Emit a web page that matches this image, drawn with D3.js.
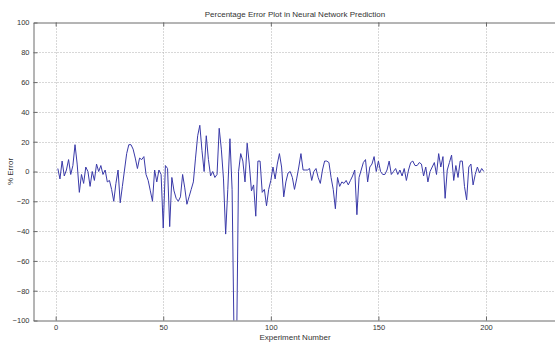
<!DOCTYPE html>
<html>
<head>
<meta charset="utf-8">
<script src="https://cdn.jsdelivr.net/npm/d3@7"></script>
<style>
  html, body { margin: 0; padding: 0; background: #fff; }
  svg { display: block; }
  text { font-family: "Liberation Sans", Arial, sans-serif; fill: #333; }
</style>
</head>
<body>
<svg id="chart" width="555" height="342"></svg>
<script>
// Percentage error of the network prediction, one value per experiment (1..199)
const experiments = d3.range(1, 200);
const errorValues = [
  2, -5, 7, -3, 1, 8, -2, 4, 18, 5,
  -14, -2, -8, 3, 0, -10, 0, -6, 5, 0,
  4, -2, 1, -7, -6, -12, -20, -8, 1, -21,
  -10, 1, 12, 18, 18, 15, 9, 2, 9, 8,
  10, -2, -6, -13, -20, 1, -7, 1, -2, -38,
  4, 2, -37, -4, -13, -18, -20, -17, -2, -11,
  -22, -17, -12, -7, 9, 24, 31, 14, 0, 24,
  8, -3, 0, -4, -2, 29, 15, -5, -42, -12,
  22, -12, -122, -130, 0, 12, 7, -7, 19, 5,
  -13, -9, -30, 7, 7, -14, -12, -23, -12, -6,
  3, -5, 5, 12, 3, -17, -7, -1, 0, -4,
  -12, -5, 3, 12, 1, 1, 1, 2, -6, 0,
  2, -4, -8, 1, 7, 7, 6, -4, -12, -25,
  -4, -10, -7, -8, -6, -9, -6, -3, 1, -29,
  -4, 1, 6, 8, -7, 3, 5, 10, 0, 7,
  0, -2, -2, 1, 7, -2, 0, 2, -2, 1,
  -3, 2, -6, 1, 6, 7, 4, 4, 6, 5,
  -3, 3, -7, 0, 3, 6, -2, 12, 3, 10,
  -18, 1, 6, 11, -6, 4, -4, 7, 7, -10,
  -19, 3, 5, -9, -2, 3, -1, 2, 0
];
const xTicks = [0, 50, 100, 150, 200];
const yTicks = [-100, -80, -60, -40, -20, 0, 20, 40, 60, 80, 100];

const titleText = "Percentage Error Plot in Neural Network Prediction";
const xLabelText = "Experiment Number";
const yLabelText = "% Error";

const svg = d3.select("#chart");
const plotLeft = 33.5, plotRight = 557, plotTop = 22.5, plotBottom = 320.5;

const x = d3.scaleLinear().domain([-10.3, 233]).range([plotLeft, plotRight]);
const y = d3.scaleLinear().domain([-100, 100]).range([plotBottom, plotTop]);

// dotted grid
const grid = svg.append("g").attr("stroke", "#b0b0b0").attr("stroke-width", 1)
  .attr("stroke-dasharray", "1,2");
grid.selectAll(".gx").data(xTicks).join("line")
  .attr("x1", d => Math.round(x(d)) + 0.5).attr("x2", d => Math.round(x(d)) + 0.5)
  .attr("y1", plotTop).attr("y2", plotBottom);
grid.selectAll(".gy").data(yTicks.filter(d => d > -100 && d < 100)).join("line")
  .attr("y1", d => Math.round(y(d)) + 0.5).attr("y2", d => Math.round(y(d)) + 0.5)
  .attr("x1", plotLeft).attr("x2", plotRight);

// error trace
svg.append("clipPath").attr("id", "plotClip").append("rect")
  .attr("x", plotLeft).attr("y", plotTop)
  .attr("width", plotRight - plotLeft).attr("height", plotBottom - plotTop);

const line = d3.line().x((d, i) => x(experiments[i])).y(d => y(d));
svg.append("path")
  .datum(errorValues)
  .attr("clip-path", "url(#plotClip)")
  .attr("fill", "none")
  .attr("stroke", "#3a3aa8")
  .attr("stroke-width", 1)
  .attr("stroke-linejoin", "round")
  .attr("d", line);

// axes box with inward ticks
const axisColor = "#6a6a6a";
const bottomAxis = d3.axisBottom(x).tickValues(xTicks).tickSizeInner(-4).tickSizeOuter(0).tickPadding(4);
const topAxis = d3.axisTop(x).tickValues(xTicks).tickSizeInner(-4).tickSizeOuter(0).tickFormat("");
const leftAxis = d3.axisLeft(y).tickValues(yTicks).tickSizeInner(-4).tickSizeOuter(0).tickPadding(4);

const gb = svg.append("g").attr("transform", `translate(0,${plotBottom})`).call(bottomAxis);
const gt = svg.append("g").attr("transform", `translate(0,${plotTop})`).call(topAxis);
const gl = svg.append("g").attr("transform", `translate(${plotLeft},0)`).call(leftAxis);

[gb, gt, gl].forEach(g => {
  g.select(".domain").attr("stroke", axisColor);
  g.selectAll(".tick line").attr("stroke", axisColor);
  g.selectAll(".tick text").attr("fill", "#333").style("font-size", "7.5px")
    .style("font-family", "'Liberation Sans', Arial, sans-serif");
});

// titles
svg.append("text").attr("x", 295).attr("y", 17).attr("text-anchor", "middle")
  .style("font-size", "8px").text(titleText);
svg.append("text").attr("x", 295).attr("y", 340).attr("text-anchor", "middle")
  .style("font-size", "8px").text(xLabelText);
svg.append("text").attr("transform", `translate(13,${y(0)}) rotate(-90)`)
  .attr("text-anchor", "middle").style("font-size", "8px").text(yLabelText);
</script>
</body>
</html>
